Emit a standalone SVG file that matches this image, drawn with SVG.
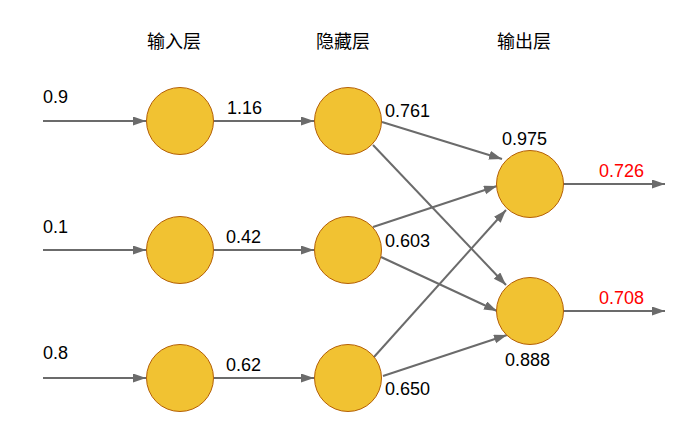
<svg xmlns="http://www.w3.org/2000/svg" width="687" height="433" viewBox="0 0 687 433">
<style>
.node{fill:#F1C232;stroke:#B45F06;stroke-width:1}
.edge{stroke:#6B6B6B;stroke-width:2;fill:none}
.t{font-family:"Liberation Sans",Arial,sans-serif;font-size:18px;fill:#000}
.r{fill:#FF0000}
.h{font-family:"Liberation Sans","Noto Sans CJK SC",sans-serif;font-size:18px;fill:#000}
</style>
<defs>
<marker id="arr" markerUnits="userSpaceOnUse" markerWidth="14" markerHeight="10" refX="13" refY="4.5" orient="auto">
<path d="M0,0 L13,4.5 L0,9 z" fill="#6B6B6B"/>
</marker>
</defs>
<rect width="687" height="433" fill="#fff"/>
<g id="titles">
<text class="h" x="147" y="48">输入层</text>
<text class="h" x="316" y="48">隐藏层</text>
<text class="h" x="497" y="48">输出层</text>
</g>
<g id="connectors" class="edge" marker-end="url(#arr)">
<line x1="43" y1="121" x2="146" y2="121"/>
<line x1="43" y1="250" x2="146" y2="250"/>
<line x1="43" y1="378" x2="146" y2="378"/>
<line x1="214" y1="121" x2="314" y2="121"/>
<line x1="214" y1="250" x2="314" y2="250"/>
<line x1="214" y1="378" x2="314" y2="378"/>
<line x1="382" y1="122" x2="502" y2="159"/>
<line x1="373" y1="145" x2="506" y2="285"/>
<line x1="373" y1="227" x2="497" y2="186"/>
<line x1="381" y1="257" x2="497" y2="311"/>
<line x1="374" y1="357" x2="506" y2="210"/>
<line x1="383" y1="376" x2="507" y2="335"/>
<line x1="563" y1="184" x2="665" y2="184"/>
<line x1="563" y1="311" x2="665" y2="311"/>
</g>
<g id="in1"><circle class="node" cx="180" cy="121" r="33.5"/></g>
<g id="in2"><circle class="node" cx="180" cy="250" r="33.5"/></g>
<g id="in3"><circle class="node" cx="180" cy="378" r="33.5"/></g>
<g id="hid1"><circle class="node" cx="348" cy="121" r="33.5"/></g>
<g id="hid2"><circle class="node" cx="348" cy="250" r="33.5"/></g>
<g id="hid3"><circle class="node" cx="348" cy="378" r="33.5"/></g>
<g id="out1"><circle class="node" cx="530" cy="184" r="33.5"/></g>
<g id="out2"><circle class="node" cx="530" cy="311" r="33.5"/></g>
<g id="labels" class="t">
<text x="43" y="103">0.9</text>
<text x="43" y="233">0.1</text>
<text x="43" y="359">0.8</text>
<text x="227" y="114">1.16</text>
<text x="226" y="243">0.42</text>
<text x="226" y="371">0.62</text>
<text x="385" y="117">0.761</text>
<text x="385" y="247">0.603</text>
<text x="385" y="395">0.650</text>
<text x="502" y="145">0.975</text>
<text x="505" y="366">0.888</text>
<text class="r" x="599" y="177">0.726</text>
<text class="r" x="599" y="304">0.708</text>
</g>
</svg>
